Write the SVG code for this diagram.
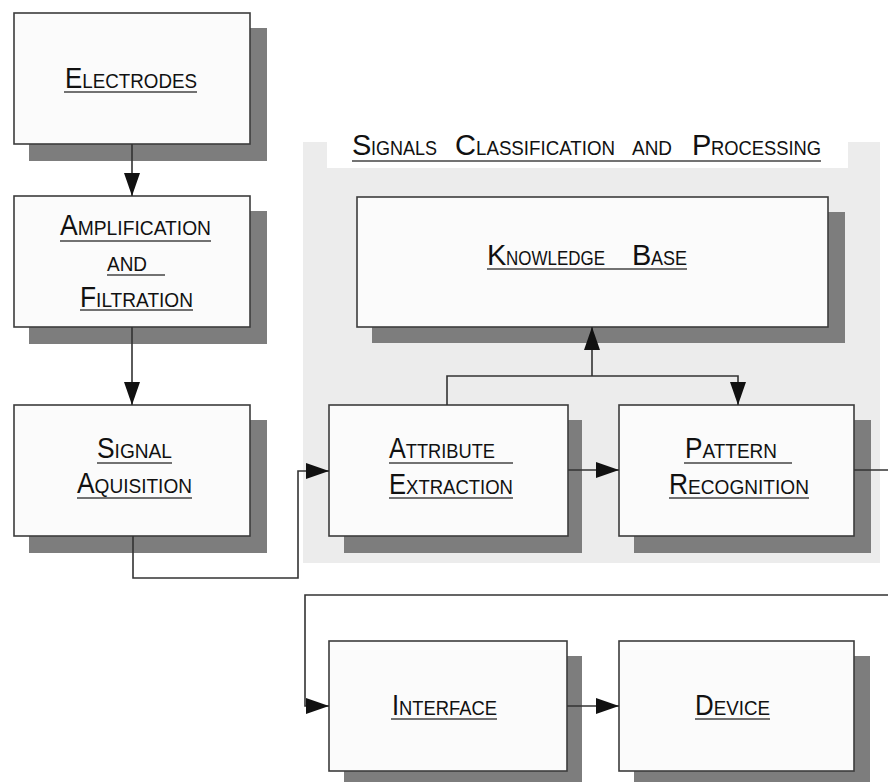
<svg xmlns="http://www.w3.org/2000/svg" width="888" height="782" viewBox="0 0 888 782">
<defs>
<style>
.shadow{fill:#7d7d7d}
.box{fill:#fbfbfb;stroke:#3c3c3c;stroke-width:1.6}
.t{font-family:"Liberation Sans",Arial,sans-serif;font-size:21px;fill:#111}
.c{font-size:29px}
.ul{stroke:#444;stroke-width:1.5}
.wire{fill:none;stroke:#333;stroke-width:1.6}
</style>
<marker id="ah" markerUnits="userSpaceOnUse" markerWidth="24" markerHeight="16" refX="23" refY="8" orient="auto">
<path d="M0,0 L23,8 L0,16 Z" fill="#111"/>
</marker>
</defs>
<rect width="888" height="782" fill="#ffffff"/>
<g id="region">
<rect x="303" y="142" width="577" height="421" fill="#ececec"/>
<rect x="327" y="120" width="521" height="48" fill="#ffffff"/>
<text class="t" y="155"><tspan x="352" class="c">S</tspan><tspan x="371" textLength="66" lengthAdjust="spacingAndGlyphs">IGNALS</tspan> <tspan x="455" class="c">C</tspan><tspan x="476" textLength="139" lengthAdjust="spacingAndGlyphs">LASSIFICATION</tspan> <tspan x="632" textLength="40" lengthAdjust="spacingAndGlyphs">AND</tspan> <tspan x="692" class="c">P</tspan><tspan x="711" textLength="110" lengthAdjust="spacingAndGlyphs">ROCESSING</tspan></text>
<line class="ul" x1="352" y1="161" x2="821" y2="161"/>
</g>
<g id="electrodes">
<rect class="shadow" x="29" y="28" width="238" height="133"/>
<rect class="box" x="14" y="13" width="236" height="131"/>
<text class="t" x="65" y="88" textLength="132" lengthAdjust="spacingAndGlyphs"><tspan class="c">E</tspan>LECTRODES</text>
<line class="ul" x1="64" y1="92" x2="197" y2="92"/>
</g>
<g id="amplification">
<rect class="shadow" x="29" y="211" width="238" height="133"/>
<rect class="box" x="14" y="196" width="236" height="131"/>
<text class="t" x="60" y="235" textLength="151" lengthAdjust="spacingAndGlyphs"><tspan class="c">A</tspan>MPLIFICATION</text>
<line class="ul" x1="60" y1="241" x2="211" y2="241"/>
<text class="t" x="107" y="271" textLength="40" lengthAdjust="spacingAndGlyphs">AND</text>
<line class="ul" x1="107" y1="275" x2="165" y2="275"/>
<text class="t" x="80" y="307" textLength="113" lengthAdjust="spacingAndGlyphs"><tspan class="c">F</tspan>ILTRATION</text>
<line class="ul" x1="80" y1="310" x2="193" y2="310"/>
</g>
<g id="signal">
<rect class="shadow" x="29" y="420" width="238" height="133"/>
<rect class="box" x="14" y="405" width="236" height="131"/>
<text class="t" x="97" y="458" textLength="75" lengthAdjust="spacingAndGlyphs"><tspan class="c">S</tspan>IGNAL</text>
<line class="ul" x1="97" y1="463" x2="172" y2="463"/>
<text class="t" x="77" y="493" textLength="115" lengthAdjust="spacingAndGlyphs"><tspan class="c">A</tspan>QUISITION</text>
<line class="ul" x1="77" y1="498" x2="192" y2="498"/>
</g>
<g id="knowledge">
<rect class="shadow" x="372" y="212" width="473" height="131"/>
<rect class="box" x="357" y="197" width="471" height="130"/>
<text class="t" y="265"><tspan x="487" class="c">K</tspan><tspan x="506" textLength="99" lengthAdjust="spacingAndGlyphs">NOWLEDGE</tspan> <tspan x="632" class="c">B</tspan><tspan x="651" textLength="36" lengthAdjust="spacingAndGlyphs">ASE</tspan></text>
<line class="ul" x1="487" y1="269" x2="687" y2="269"/>
</g>
<g id="attribute">
<rect class="shadow" x="344" y="420" width="238" height="133"/>
<rect class="box" x="329" y="405" width="239" height="131"/>
<text class="t" x="389" y="458" textLength="106" lengthAdjust="spacingAndGlyphs"><tspan class="c">A</tspan>TTRIBUTE</text>
<line class="ul" x1="389" y1="463" x2="513" y2="463"/>
<text class="t" x="389" y="494" textLength="124" lengthAdjust="spacingAndGlyphs"><tspan class="c">E</tspan>XTRACTION</text>
<line class="ul" x1="389" y1="498" x2="513" y2="498"/>
</g>
<g id="pattern">
<rect class="shadow" x="634" y="420" width="237" height="133"/>
<rect class="box" x="619" y="405" width="235" height="131"/>
<text class="t" x="685" y="458" textLength="92" lengthAdjust="spacingAndGlyphs"><tspan class="c">P</tspan>ATTERN</text>
<line class="ul" x1="684" y1="463" x2="792" y2="463"/>
<text class="t" x="669" y="494" textLength="140" lengthAdjust="spacingAndGlyphs"><tspan class="c">R</tspan>ECOGNITION</text>
<line class="ul" x1="669" y1="498" x2="809" y2="498"/>
</g>
<g id="interface">
<rect class="shadow" x="344" y="656" width="238" height="132"/>
<rect class="box" x="329" y="641" width="238" height="130"/>
<text class="t" x="392" y="715" textLength="105" lengthAdjust="spacingAndGlyphs"><tspan class="c">I</tspan>NTERFACE</text>
<line class="ul" x1="391" y1="719" x2="497" y2="719"/>
</g>
<g id="device">
<rect class="shadow" x="634" y="656" width="236" height="132"/>
<rect class="box" x="619" y="641" width="235" height="130"/>
<text class="t" x="695" y="715" textLength="75" lengthAdjust="spacingAndGlyphs"><tspan class="c">D</tspan>EVICE</text>
<line class="ul" x1="695" y1="719" x2="770" y2="719"/>
</g>
<g id="connectors">
<path class="wire" d="M132,144 V196" marker-end="url(#ah)"/>
<path class="wire" d="M132,327 V405" marker-end="url(#ah)"/>
<path class="wire" d="M133,536 V578 H298 V471 H329" marker-end="url(#ah)"/>
<path class="wire" d="M568,470 H619" marker-end="url(#ah)"/>
<path class="wire" d="M447,405 V376 H738 V405" marker-end="url(#ah)"/>
<path class="wire" d="M592,376 V327" marker-end="url(#ah)"/>
<path class="wire" d="M854,470 H888"/>
<path class="wire" d="M888,595 H305 V706 H329" marker-end="url(#ah)"/>
<path class="wire" d="M567,706 H619" marker-end="url(#ah)"/>
</g>
</svg>
